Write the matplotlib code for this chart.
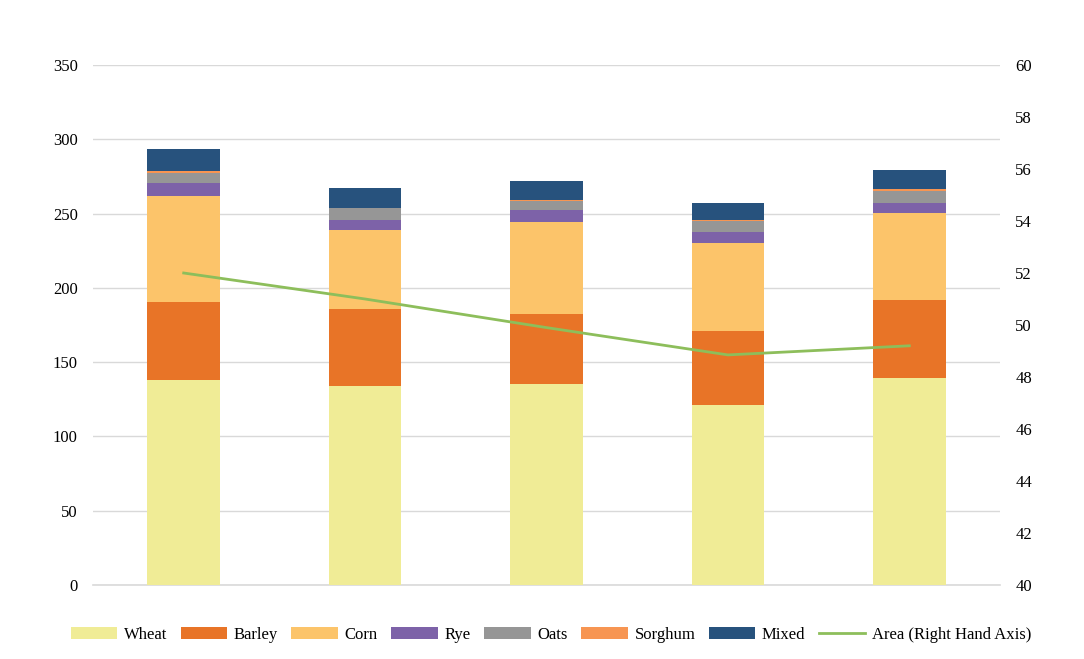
import numpy as np
import matplotlib.pyplot as plt

plt.rcParams['font.family'] = ['Liberation Serif', 'DejaVu Serif']

categories = ["1", "2", "3", "4", "5"]
wheat = [138, 134, 135, 121, 139]
barley = [52.5, 52, 47.5, 50, 53]
corn = [71.5, 53, 62, 59.5, 58.5]
rye = [8.5, 7, 8, 7, 6.5]
oats = [7, 7.5, 6, 7.5, 8.5]
sorghum = [1, 0.5, 0.5, 0.5, 1]
mixed = [15, 13.5, 13, 11.5, 12.5]
area = [52.0, 51.0, 49.9, 48.85, 49.2]

series = [("Wheat", wheat, "#F0EC96"), ("Barley", barley, "#E87427"),
          ("Corn", corn, "#FCC46A"), ("Rye", rye, "#7D62A8"),
          ("Oats", oats, "#969696"), ("Sorghum", sorghum, "#F79552"),
          ("Mixed", mixed, "#27527D")]

fig = plt.figure(figsize=(10.84, 6.59), dpi=100)
ax = fig.add_axes([93 / 1084, 1 - 585 / 659, 907 / 1084, 520 / 659])
x = np.arange(len(categories))
bottom = np.zeros(len(categories))
for name, vals, col in series:
    ax.bar(x, vals, 0.4, bottom=bottom, color=col, label=name, zorder=2)
    bottom += np.array(vals)

ax.set_ylim(0, 350)
ax.set_yticks(range(0, 351, 50))
ax.set_xlim(-0.5, 4.5)
ax.set_xticks([])
ax.grid(axis='y', color='#D9D9D9', linewidth=1, zorder=0)
ax.axhline(0, color='#D9D9D9', linewidth=1.2, zorder=1, clip_on=False)
ax.set_axisbelow(True)
for s in ax.spines.values():
    s.set_visible(False)
ax.tick_params(axis='y', length=0, labelsize=12, pad=11)

ax2 = ax.twinx()
ax2.plot(x, area, color="#8DBE5B", linewidth=2, label="Area (Right Hand Axis)")
ax2.set_ylim(40, 60)
ax2.set_yticks(range(40, 61, 2))
for s in ax2.spines.values():
    s.set_visible(False)
ax2.tick_params(axis='y', length=0, labelsize=12, pad=11)

h1, l1 = ax.get_legend_handles_labels()
h2, l2 = ax2.get_legend_handles_labels()
fig.legend(h1 + h2, l1 + l2, loc='center', bbox_to_anchor=(551 / 1084, 1 - 635 / 659),
           ncol=8, frameon=False, fontsize=12, handlelength=2.8, handleheight=0.7,
           columnspacing=0.8, handletextpad=0.4)

fig.savefig("out.png", dpi=100)
